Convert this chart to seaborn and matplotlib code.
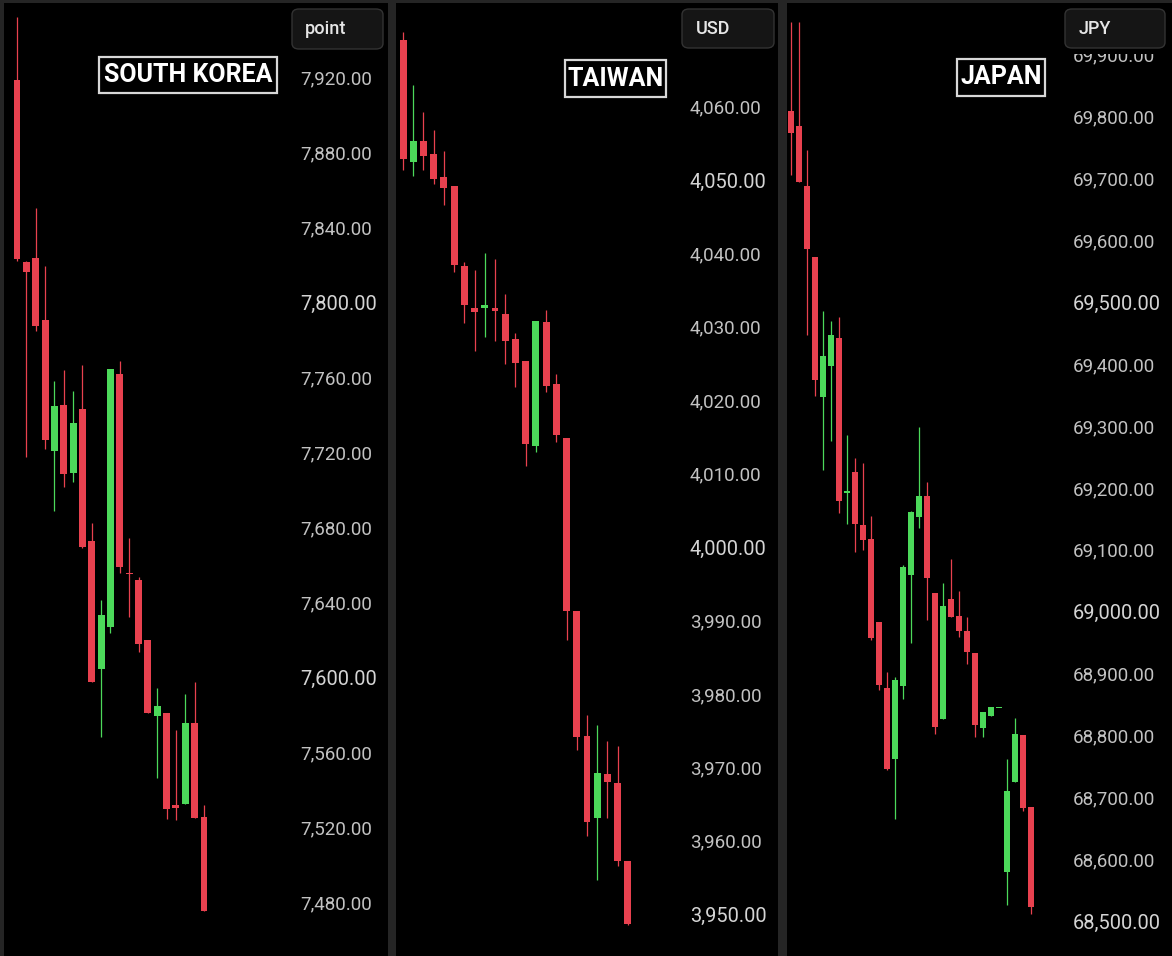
import numpy as np
import pandas as pd
import matplotlib
matplotlib.use("Agg")
import matplotlib.pyplot as plt
from matplotlib.patches import Rectangle, FancyBboxPatch
from matplotlib.ticker import FuncFormatter, FixedLocator
import seaborn as sns

# ---------------- data ----------------
kr_open  = [7918.7, 7821.6, 7823.9, 7790.7, 7721.0, 7745.3, 7708.9, 7743.2, 7673.0, 7604.5, 7627.1,
            7761.9, 7656.0, 7652.0, 7620.0, 7579.6, 7580.9, 7532.0, 7532.4, 7575.6, 7525.4]
kr_high  = [7952.0, 7822.0, 7850.4, 7819.6, 7758.1, 7764.0, 7753.0, 7766.7, 7682.2, 7641.3, 7764.5,
            7769.0, 7674.6, 7653.8, 7620.0, 7594.2, 7580.9, 7572.0, 7591.2, 7597.4, 7532.0]
kr_low   = [7822.0, 7717.6, 7785.0, 7721.9, 7688.8, 7701.4, 7704.4, 7669.0, 7597.4, 7568.4, 7623.9,
            7656.0, 7632.4, 7613.8, 7580.9, 7546.2, 7524.5, 7523.8, 7532.4, 7525.0, 7475.6]
kr_close = [7823.0, 7816.0, 7787.6, 7726.7, 7745.0, 7708.5, 7735.9, 7669.8, 7597.4, 7633.3, 7764.5,
            7659.1, 7655.0, 7617.7, 7580.9, 7584.8, 7529.9, 7530.5, 7575.6, 7525.0, 7475.6]

tw_open  = [4069.0, 4052.4, 4055.3, 4053.5, 4050.4, 4049.2, 4038.3, 4032.5, 4032.5, 4032.6, 4031.7, 4028.3,
            4025.3, 4013.7, 4030.6, 4022.2, 4014.8, 3991.3, 3974.3, 3963.1, 3969.1, 3967.9, 3957.3]
tw_high  = [4070.2, 4062.9, 4059.2, 4056.8, 4053.9, 4049.2, 4038.8, 4037.7, 4040.0, 4039.2, 4034.4, 4029.2,
            4025.4, 4030.8, 4032.3, 4023.6, 4014.8, 3991.3, 3977.1, 3975.8, 3973.6, 3972.9, 3957.3]
tw_low   = [4051.3, 4050.6, 4051.3, 4049.5, 4046.6, 4037.5, 4030.5, 4026.7, 4028.6, 4028.0, 4024.9, 4021.8,
            4011.0, 4013.0, 4021.1, 4014.3, 3987.4, 3972.3, 3960.7, 3954.7, 3963.1, 3956.5, 3948.5]
tw_close = [4052.8, 4055.3, 4053.3, 4050.1, 4048.9, 4038.4, 4032.9, 4032.0, 4032.9, 4032.2, 4028.1, 4025.1,
            4014.0, 4030.8, 4022.0, 4015.2, 3991.3, 3974.1, 3962.5, 3969.2, 3968.0, 3957.2, 3948.7]

jp_open  = [69809, 69785, 69688, 69574, 69347, 69397, 69443, 69192, 69226, 69140, 69117, 68983, 68876,
            68762, 68880, 69059, 69153, 69187, 69031, 68826, 69020, 68993, 68969, 68934, 68812, 68831,
            68844, 68580, 68724, 68801, 68685]
jp_high  = [69953, 69953, 69746, 69574, 69486, 69470, 69477, 69285, 69248, 69240, 69155, 68983, 68903,
            68895, 69075, 69163, 69299, 69210, 69031, 69046, 69085, 69033, 68992, 68934, 68838, 68846,
            68845, 68762, 68828, 68801, 68685]
jp_low   = [69706, 69695, 69447, 69349, 69229, 69276, 69160, 69141, 69096, 69100, 68954, 68873, 68744,
            68665, 68859, 68949, 69136, 68987, 68803, 68826, 68991, 68959, 68915, 68798, 68798, 68831,
            68844, 68526, 68724, 68678, 68511]
jp_close = [69773, 69695, 69586, 69374, 69413, 69447, 69179, 69194, 69141, 69116, 68958, 68881, 68746,
            68890, 69073, 69161, 69187, 69055, 68814, 69009, 68991, 68969, 68935, 68817, 68838, 68846,
            68845, 68710, 68803, 68682, 68523]

titles = ["SOUTH KOREA", "TAIWAN", "JAPAN"]
units = ["point", "USD", "JPY"]
kr_ticks = list(range(7480, 7921, 40))
tw_ticks = list(range(3950, 4061, 10))
jp_ticks = list(range(68500, 69901, 100))

# ---------------- style ----------------
sns.set_theme(style="dark")
plt.rcParams["font.family"] = ["Roboto", "DejaVu Sans"]

W, H = 1172, 956
RED = "#e8414f"
GREEN = "#4cd95a"

fig = plt.figure(figsize=(W / 100, H / 100), dpi=100, facecolor="#252525")


def box(x0, y0, x1, y1):
    return [x0 / W, 1 - y1 / H, (x1 - x0) / W, (y1 - y0) / H]


panels = [
    dict(o=kr_open, h=kr_high, l=kr_low, c=kr_close, ticks=kr_ticks, major=200,
         bg=(4, 388), ax=(4, 290), xlim=(-1.39, 29.2), ylim=(7451.5, 7959.7), bw=0.74, minh=0.8,
         title_box=(99, 57, 277, 93), unit_box=(292, 9, 383, 49), unit_x=305),
    dict(o=tw_open, h=tw_high, l=tw_low, c=tw_close, ticks=tw_ticks, major=50,
         bg=(396, 778), ax=(397, 680), xlim=(-0.59, 27.1), ylim=(3944.3, 4074.1), bw=0.68, minh=0.2,
         title_box=(565, 60, 666, 97), unit_box=(682, 9, 774, 48), unit_x=696),
    dict(o=jp_open, h=jp_high, l=jp_low, c=jp_close, ticks=jp_ticks, major=500,
         bg=(787, 1172), ax=(788, 1063), xlim=(-0.375, 34.0), ylim=(68443.5, 69983.8), bw=0.85, minh=2.4,
         title_box=(957, 59, 1045, 96), unit_box=(1065, 9, 1165, 48), unit_x=1079),
]

for i, p in enumerate(panels):
    bg = fig.add_axes(box(p["bg"][0], 3, p["bg"][1], H))
    bg.set_facecolor("black")
    bg.set_xticks([]); bg.set_yticks([])
    for s in bg.spines.values():
        s.set_visible(False)

    ax = fig.add_axes(box(p["ax"][0], 3, p["ax"][1], H))
    ax.patch.set_alpha(0)
    df = pd.DataFrame({"open": p["o"], "high": p["h"], "low": p["l"], "close": p["c"]})
    df["idx"] = np.arange(len(df))
    df["up"] = df["close"] >= df["open"]
    cols = np.where(df["up"], GREEN, RED)
    ax.vlines(df["idx"], df["low"], df["high"], colors=cols, linewidth=0.9, zorder=2)
    diff = (df["close"] - df["open"]).to_numpy()
    hgt = np.where(np.abs(diff) < p["minh"], np.where(diff >= 0, p["minh"], -p["minh"]), diff)
    ax.bar(df["idx"], hgt, bottom=df["open"], width=p["bw"], color=cols, linewidth=0, zorder=3)

    ax.set_xlim(*p["xlim"])
    ax.set_ylim(*p["ylim"])
    ax.set_xticks([])
    ax.yaxis.tick_right()
    ax.yaxis.set_major_locator(FixedLocator(p["ticks"]))
    ax.yaxis.set_major_formatter(FuncFormatter(lambda v, pos: f"{v:,.2f}"))
    ax.tick_params(axis="y", length=0, pad=7.2, labelsize=13.5, labelcolor="#c2c2c2")
    ax.grid(False)
    for s in ax.spines.values():
        s.set_visible(False)
    for t, v in zip(ax.get_yticklabels(), p["ticks"]):
        t.set_horizontalalignment("left")
        if v % p["major"] == 0:
            t.set_fontsize(14.4)
            t.set_color("#d4d4d4")

    # mask just below unit box (covers top of labels that slide under it)
    ux0, uy0, ux1, uy1 = p["unit_box"]
    mk = Rectangle((ux0 / W, 1 - (uy1 + 6) / H), (ux1 - ux0) / W, (uy1 + 6 - uy0) / H,
                   transform=fig.transFigure, facecolor="black", edgecolor="none", zorder=4)
    fig.patches.append(mk)
    fb = FancyBboxPatch((ux0 / W, 1 - uy1 / H), (ux1 - ux0) / W, (uy1 - uy0) / H,
                        boxstyle="round,pad=0,rounding_size=0.006", transform=fig.transFigure,
                        facecolor="#151515", edgecolor="#333333", linewidth=1.0, zorder=5)
    fig.patches.append(fb)
    fig.text(p["unit_x"] / W, 1 - ((uy0 + uy1) / 2) / H, units[i], color="#e6e6e6",
             fontsize=13, fontweight="medium", ha="left", va="center", zorder=6)

    # title box
    tx0, ty0, tx1, ty1 = p["title_box"]
    rb = Rectangle((tx0 / W, 1 - ty1 / H), (tx1 - tx0) / W, (ty1 - ty0) / H,
                   transform=fig.transFigure, facecolor="black", edgecolor="#d8d8d8",
                   linewidth=1.6, zorder=5)
    fig.patches.append(rb)
    fig.text(((tx0 + tx1) / 2) / W, 1 - ((ty0 + ty1) / 2) / H, titles[i], color="white",
             fontsize=18, fontweight="bold", ha="center", va="center", zorder=6)

fig.savefig("out.png", dpi=100, facecolor=fig.get_facecolor())
